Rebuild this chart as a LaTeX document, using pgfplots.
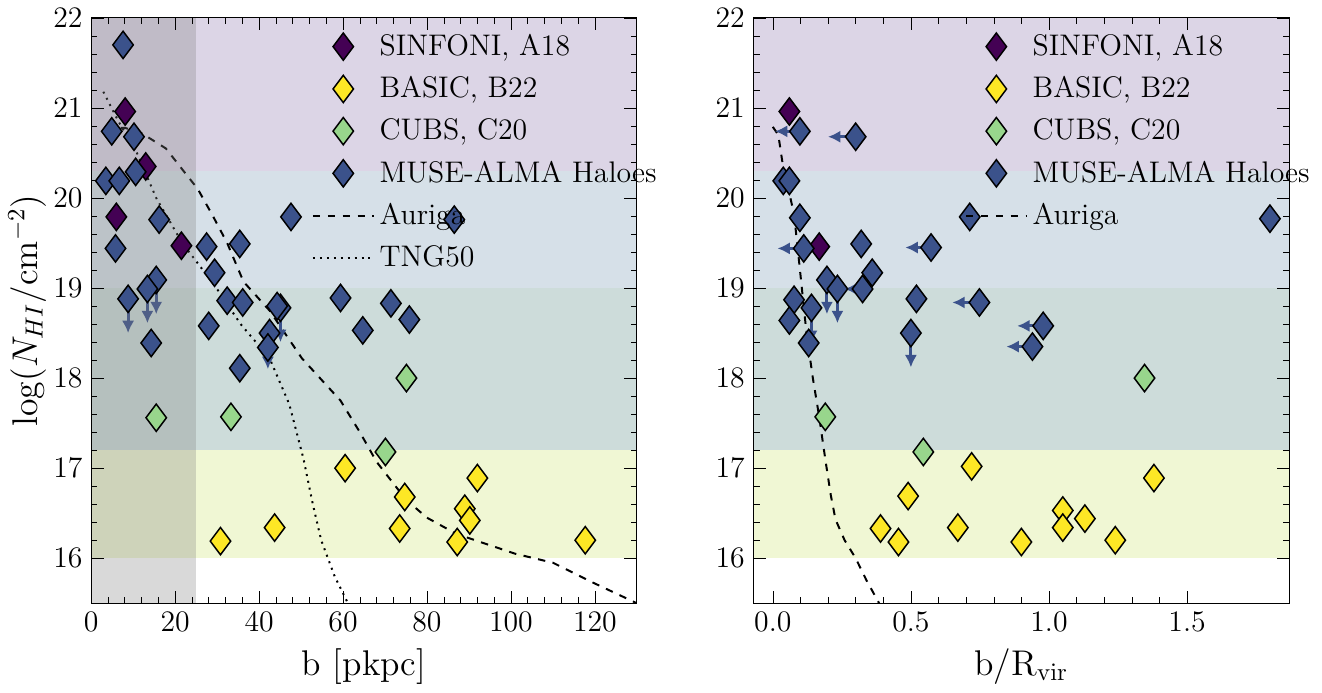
\documentclass[border=0pt]{standalone}
\usepackage{pgfplots}
\pgfplotsset{compat=1.18}
\usepackage{pgfplotstable}
\usetikzlibrary{arrows.meta}
\definecolor{vpur}{HTML}{440154}
\definecolor{vyel}{HTML}{FDE725}
\definecolor{vgrn}{HTML}{98D68C}
\definecolor{vblu}{HTML}{3B528B}
\definecolor{bpur}{HTML}{DCD5E6}
\definecolor{bblu}{HTML}{D6E0E8}
\definecolor{bgrn}{HTML}{CDDCDA}
\definecolor{byel}{HTML}{F0F7D4}
\pgfplotstableread{
x y
8.1 20.96
13.0 20.35
6.0 19.79
21.5 19.47
}\LSin
\pgfplotstableread{
x y
30.8 16.19
43.7 16.34
60.5 17.00
73.5 16.33
74.7 16.68
89.0 16.55
90.2 16.42
92.0 16.89
87.2 16.18
117.7 16.20
}\LBas
\pgfplotstableread{
x y
15.5 17.56
33.3 17.57
75.1 18.00
70.1 17.18
}\LCub
\pgfplotstableread{
x y
7.6 21.70
4.9 20.74
10.2 20.68
3.5 20.19
6.7 20.19
10.6 20.29
16.2 19.76
5.8 19.44
27.5 19.46
35.4 19.49
47.6 19.79
86.5 19.76
29.4 19.17
15.5 19.09
13.4 18.99
8.8 18.88
32.4 18.86
36.1 18.84
45.1 18.78
44.3 18.80
59.4 18.89
71.4 18.83
75.8 18.65
64.7 18.53
28.0 18.58
42.5 18.50
42.1 18.34
14.3 18.39
35.4 18.11
}\LMus
\pgfplotstableread{
x y u v
8.8 18.88 0 -0.38
13.4 18.99 0 -0.38
15.5 19.09 0 -0.38
45.1 18.78 0 -0.38
42.1 18.34 0 -0.24
}\LArr
\pgfplotstableread{
x y
3.5 20.77
8 20.78
12 20.72
17.8 20.55
22 20.3
25.4 20.1
29 19.8
32.4 19.5
36.3 19.07
42.5 18.75
50.2 18.22
59.4 17.75
64 17.4
68 17.07
75 16.65
80 16.45
87 16.27
101 16.05
110 15.95
119.5 15.73
130 15.5
}\LAur
\pgfplotstableread{
x y
2.9 21.18
6.5 20.85
10.9 20.5
15.5 20.0
21.7 19.5
29.4 19.03
35.6 18.6
42.5 18.22
47.2 17.71
50.6 17.1
52.8 16.6
54.8 16.2
58 15.8
61.7 15.45
}\LTng
\pgfplotstableread{
x y
0.06 20.96
0.168 19.46
}\RSin
\pgfplotstableread{
x y
0.39 16.33
0.49 16.69
0.455 16.18
0.67 16.34
0.72 17.02
0.90 16.18
1.05 16.53
1.05 16.34
1.13 16.44
1.24 16.20
1.38 16.89
}\RBas
\pgfplotstableread{
x y
0.19 17.57
0.545 17.18
1.346 18.00
}\RCub
\pgfplotstableread{
x y
0.098 20.74
0.30 20.68
0.038 20.19
0.06 20.19
0.098 19.78
0.713 19.79
0.112 19.44
0.32 19.49
0.573 19.45
0.36 19.17
0.196 19.09
0.234 18.99
0.325 18.99
0.077 18.87
0.14 18.78
0.06 18.64
0.13 18.39
0.52 18.88
0.748 18.84
0.50 18.50
0.979 18.58
0.94 18.35
1.80 19.77
}\RMus
\pgfplotstableread{
x y u v
0.098 20.74 -0.09 0
0.30 20.68 -0.10 0
0.112 19.44 -0.095 0
0.573 19.45 -0.093 0
0.325 18.99 -0.065 0
0.748 18.84 -0.098 0
0.979 18.58 -0.094 0
0.94 18.35 -0.094 0
0.196 19.09 0 -0.38
0.234 18.99 0 -0.38
0.14 18.78 0 -0.39
0.50 18.50 0 -0.38
}\RArr
\pgfplotstableread{
x y
0.0 20.79
0.02 20.7
0.04 20.29
0.06 20.05
0.077 19.82
0.098 19.21
0.122 18.5
0.145 18.0
0.168 17.57
0.19 17.1
0.21 16.7
0.227 16.43
0.26 16.2
0.30 16.0
0.34 15.75
0.385 15.5
}\RAur
\begin{document}
\begin{tikzpicture}
\pgfplotsset{
  common/.style={
    scale only axis, height=236pt,
    ymin=15.5, ymax=22, ytick={16,17,...,22},
    minor y tick num=4, minor x tick num=4,
    tick align=inside, xtick pos=both, ytick pos=both,
    tick style={black}, major tick length=5pt, minor tick length=2.5pt,
    axis on top,
    tick label style={font=\large}, label style={font=\Large},
    legend cell align=left,
    legend style={draw=none, fill=none, anchor=north west, row sep=3pt, font=\large,
      /tikz/every even column/.append style={column sep=8pt}},
    legend image post style={mark size=5.5pt},
  },
  mk/.style={only marks, mark=diamond*, mark size=5.5pt, mark options={draw=black, fill=#1, line width=0.6pt}},
  arr/.style={quiver={u=\thisrow{u},v=\thisrow{v}}, -{Latex[length=5pt,width=5pt]}, vblu, line width=1.2pt, forget plot},
  mkleg/.style={legend image code/.code={\draw[mark size=5.5pt] plot coordinates {(0.55cm,0cm)};}},
  lnleg/.style={legend image code/.code={\draw[#1, thick, black] (0.12cm,0cm) -- (0.98cm,0cm);}},
}
\begin{axis}[common, name=L, width=220pt, xmin=0, xmax=130, xtick={0,20,...,120},
  xlabel={b [pkpc]}, ylabel={$\log(N_{HI}/\mathrm{cm}^{-2})$}, ylabel style={yshift=-4pt},
  legend style={at={(0.39,0.99)}}]
\addplot[draw=none, fill=bpur, forget plot] coordinates {(0,20.3)(130,20.3)(130,22)(0,22)} -- cycle;
\addplot[draw=none, fill=bblu, forget plot] coordinates {(0,19)(130,19)(130,20.3)(0,20.3)} -- cycle;
\addplot[draw=none, fill=bgrn, forget plot] coordinates {(0,17.2)(130,17.2)(130,19)(0,19)} -- cycle;
\addplot[draw=none, fill=byel, forget plot] coordinates {(0,16)(130,16)(130,17.2)(0,17.2)} -- cycle;
\addplot[dashed, thick, forget plot] table {\LAur};
\addplot[dotted, thick, forget plot] table {\LTng};
\addplot[arr] table {\LArr};
\addplot[mk=vpur, mkleg] table {\LSin}; \addlegendentry{SINFONI, A18}
\addplot[mk=vyel, mkleg] table {\LBas}; \addlegendentry{BASIC, B22}
\addplot[mk=vgrn, mkleg] table {\LCub}; \addlegendentry{CUBS, C20}
\addplot[mk=vblu, mkleg] table {\LMus}; \addlegendentry{MUSE-ALMA Haloes}
\addlegendimage{lnleg=dashed} \addlegendentry{Auriga}
\addlegendimage{lnleg=dotted} \addlegendentry{TNG50}
\addplot[draw=none, fill=gray, fill opacity=0.3, forget plot] coordinates {(0,15.5)(25,15.5)(25,22)(0,22)} -- cycle;
\end{axis}
\begin{axis}[common, at={(267pt,0)}, width=216pt, xmin=-0.07, xmax=1.87, xtick={0,0.5,1,1.5},
  xticklabel style={/pgf/number format/.cd, fixed, fixed zerofill, precision=1},
  xlabel={b/R$_{\rm vir}$},
  legend style={at={(0.38,0.99)}}]
\addplot[draw=none, fill=bpur, forget plot] coordinates {(-0.07,20.3)(1.87,20.3)(1.87,22)(-0.07,22)} -- cycle;
\addplot[draw=none, fill=bblu, forget plot] coordinates {(-0.07,19)(1.87,19)(1.87,20.3)(-0.07,20.3)} -- cycle;
\addplot[draw=none, fill=bgrn, forget plot] coordinates {(-0.07,17.2)(1.87,17.2)(1.87,19)(-0.07,19)} -- cycle;
\addplot[draw=none, fill=byel, forget plot] coordinates {(-0.07,16)(1.87,16)(1.87,17.2)(-0.07,17.2)} -- cycle;
\addplot[dashed, thick, forget plot] table {\RAur};
\addplot[arr] table {\RArr};
\addplot[mk=vpur, mkleg] table {\RSin}; \addlegendentry{SINFONI, A18}
\addplot[mk=vyel, mkleg] table {\RBas}; \addlegendentry{BASIC, B22}
\addplot[mk=vgrn, mkleg] table {\RCub}; \addlegendentry{CUBS, C20}
\addplot[mk=vblu, mkleg] table {\RMus}; \addlegendentry{MUSE-ALMA Haloes}
\addlegendimage{lnleg=dashed} \addlegendentry{Auriga}
\end{axis}
\end{tikzpicture}
\end{document}
